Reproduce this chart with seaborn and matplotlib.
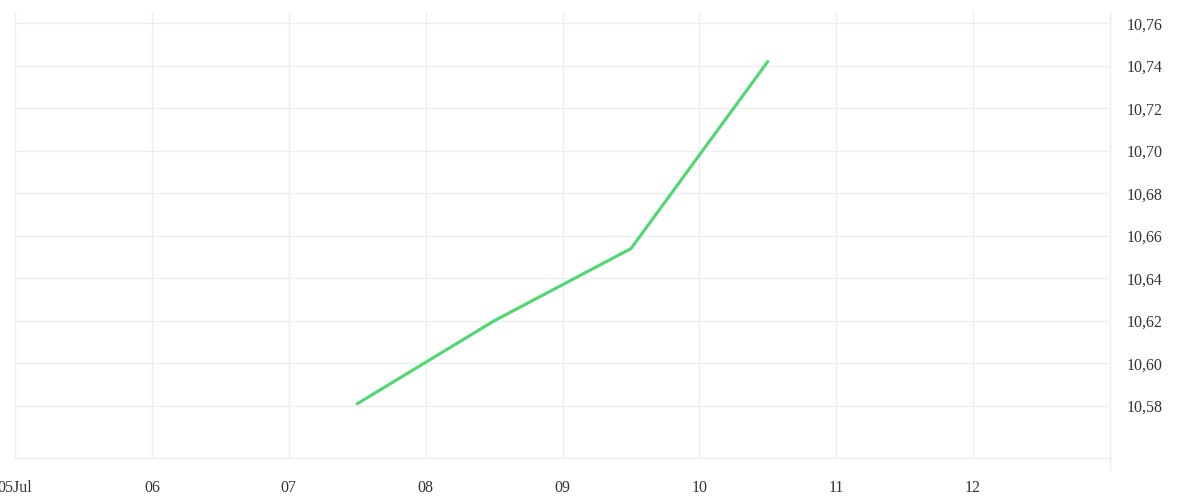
import pandas as pd
import seaborn as sns
import matplotlib.pyplot as plt
from matplotlib.ticker import FuncFormatter

# data
times = ['2024-07-07 12:00', '2024-07-08 12:00', '2024-07-09 12:00', '2024-07-10 12:00']
prices = [10.581, 10.620, 10.654, 10.742]
day_ticks = pd.date_range('2024-07-05', '2024-07-12', freq='D')
day_labels = ['05Jul', '06', '07', '08', '09', '10', '11', '12']
y_ticks = [10.58, 10.60, 10.62, 10.64, 10.66, 10.68, 10.70, 10.72, 10.74, 10.76]

df = pd.DataFrame({'time': pd.to_datetime(times), 'price': prices})

sns.set_style('white')
plt.rcParams['font.family'] = ['Liberation Serif', 'DejaVu Serif']

fig = plt.figure(figsize=(12, 5), dpi=100)
ax = fig.add_axes([0.0125, 0.084, 0.9125, 0.892])

sns.lineplot(data=df, x='time', y='price', ax=ax, color='#4cd96e', linewidth=2.2)

grid_c = '#eeeeee'
ax.set_xlim(pd.Timestamp('2024-07-05'), pd.Timestamp('2024-07-13'))
ax.set_ylim(10.5555, 10.7653)
ax.set_xticks(day_ticks)
ax.set_xticklabels(day_labels)
ax.set_yticks(y_ticks)
ax.yaxis.set_major_formatter(FuncFormatter(lambda v, p: f'{v:.2f}'.replace('.', ',')))
ax.yaxis.tick_right()

ax.grid(True, color=grid_c, linewidth=1)
ax.tick_params(axis='x', length=10, color=grid_c, width=1, pad=6,
               labelsize=11.5, labelcolor='#333333')
ax.tick_params(axis='y', length=0, pad=12, labelsize=11.5, labelcolor='#333333')

for s in ['top', 'left']:
    ax.spines[s].set_visible(False)
for s in ['right', 'bottom']:
    ax.spines[s].set_color(grid_c)
    ax.spines[s].set_linewidth(1)
ax.spines['right'].set_bounds(10.5555 - 0.005, 10.7653)
ax.set_xlabel('')
ax.set_ylabel('')

fig.savefig('out.png', dpi=100, facecolor='white')
